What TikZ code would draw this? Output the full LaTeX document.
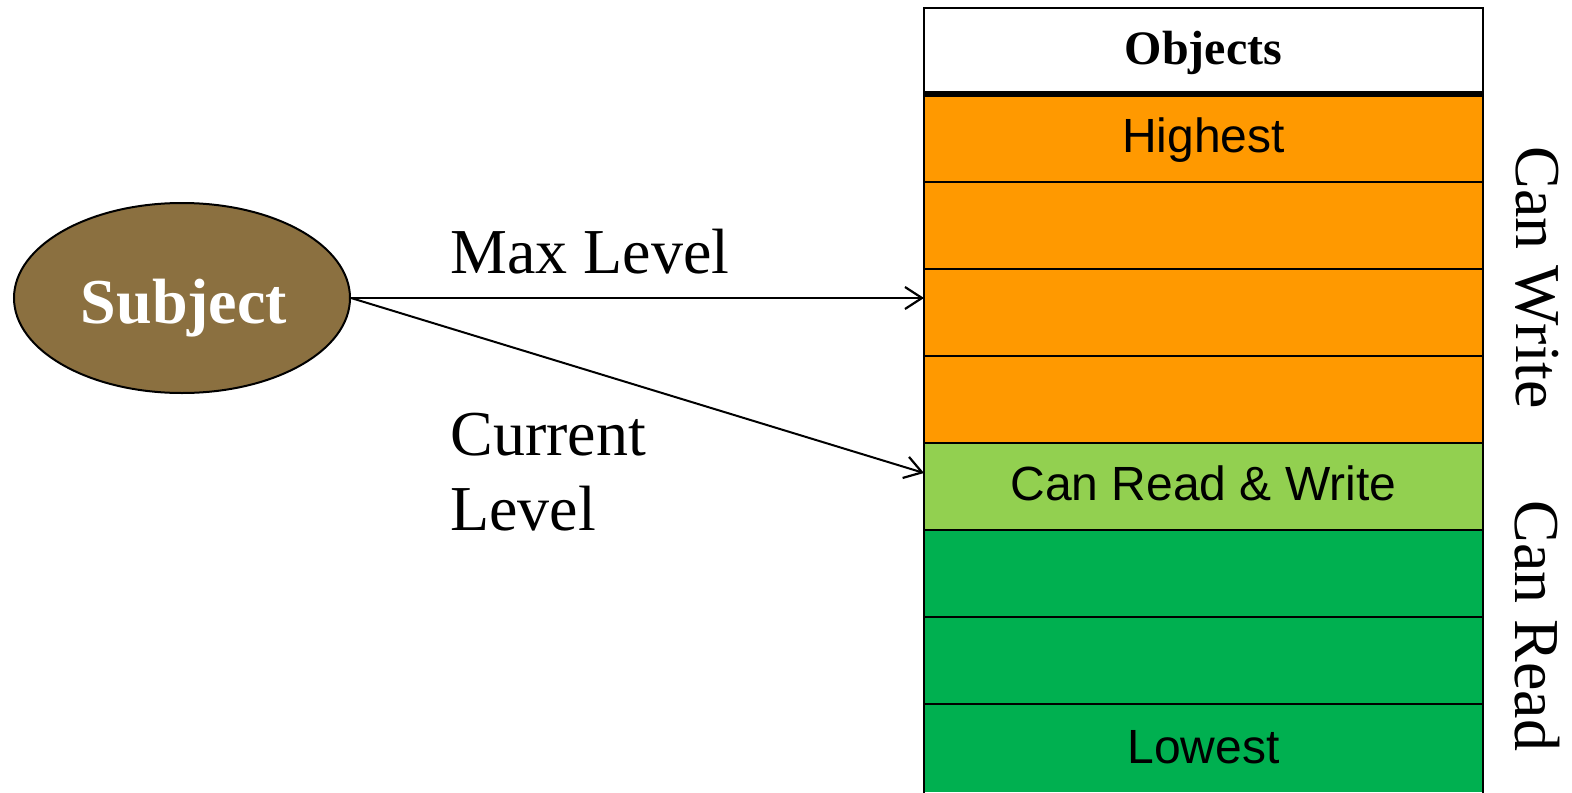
\documentclass[tikz,border=0pt]{standalone}
\usepackage{fontspec}
\setmainfont{Liberation Serif}
\newfontfamily\arialfont{Liberation Sans}
\usetikzlibrary{arrows.meta,shapes.geometric}
\definecolor{subjbrown}{HTML}{8B7040}
\definecolor{levelorange}{HTML}{FF9900}
\definecolor{levellime}{HTML}{92D050}
\definecolor{levelgreen}{HTML}{00B050}
\tikzset{
  levelrow/.style={draw=black, line width=1.1pt},
  rowlabel/.style={font=\arialfont\fontsize{24}{28}\selectfont, anchor=base, inner sep=0pt},
  sidelabel/.style={font=\fontsize{32}{36}\selectfont, rotate=-90, inner sep=0pt},
  freelabel/.style={font=\fontsize{32}{36}\selectfont, anchor=base west, inner sep=0pt},
  link/.style={line width=1pt, -{Straight Barb[length=8.5pt,width=11pt,line width=1.1pt]}}
}
\begin{document}
\begin{tikzpicture}[x=0.5pt,y=-0.5pt]
\useasboundingbox (0,0) rectangle (1572,792);

% header row
\draw[levelrow, fill=white] (924,8) rectangle (1483,94);
\node[font=\bfseries\fontsize{24}{28}\selectfont, anchor=base, inner sep=0pt] (objects) at (1203.5,65) {Objects};

% security levels, highest to lowest
\fill[levelorange] (924,94) rectangle (1483,443);
\fill[levellime] (924,443) rectangle (1483,530);
\fill[levelgreen] (924,530) rectangle (1483,792);
\foreach \y in {182,269,356,443,530,617,704}
  \draw[line width=1.1pt] (924,\y) -- (1483,\y);
\draw[line width=1.1pt] (924,94) -- (924,800);
\draw[line width=1.1pt] (1483,94) -- (1483,800);
\draw[line width=3pt] (924,94) -- (1483,94);

\coordinate (maxpt) at (924,298);
\coordinate (curpt) at (924,473);

\node[rowlabel] (highest) at (1203.5,152) {Highest};
\node[rowlabel] (readwrite) at (1203.5,500) {Can Read \& Write};
\node[rowlabel] (lowest) at (1203.5,763) {Lowest};

\node[sidelabel] (canwrite) at (1537,278) {Can Write};
\node[sidelabel] (canread) at (1537,626) {Can Read};

% subject
\node[ellipse, draw=black, line width=1pt, fill=subjbrown, minimum width=168pt, minimum height=95pt, inner sep=0pt] (subject) at (182,298) {};
\node[font=\bfseries\fontsize{32}{36}\selectfont, text=white, anchor=base, inner sep=0pt] (subjtext) at (184,323) {Subject};

\draw[link] (subject.east) -- (maxpt);
\draw[link] (subject.east) -- (curpt);

\node[freelabel] (maxlabel) at (450,273) {Max Level};
\node[freelabel] (curlabel) at (450,455) {Current};
\node[freelabel] (lvllabel) at (450,530) {Level};
\end{tikzpicture}
\end{document}
